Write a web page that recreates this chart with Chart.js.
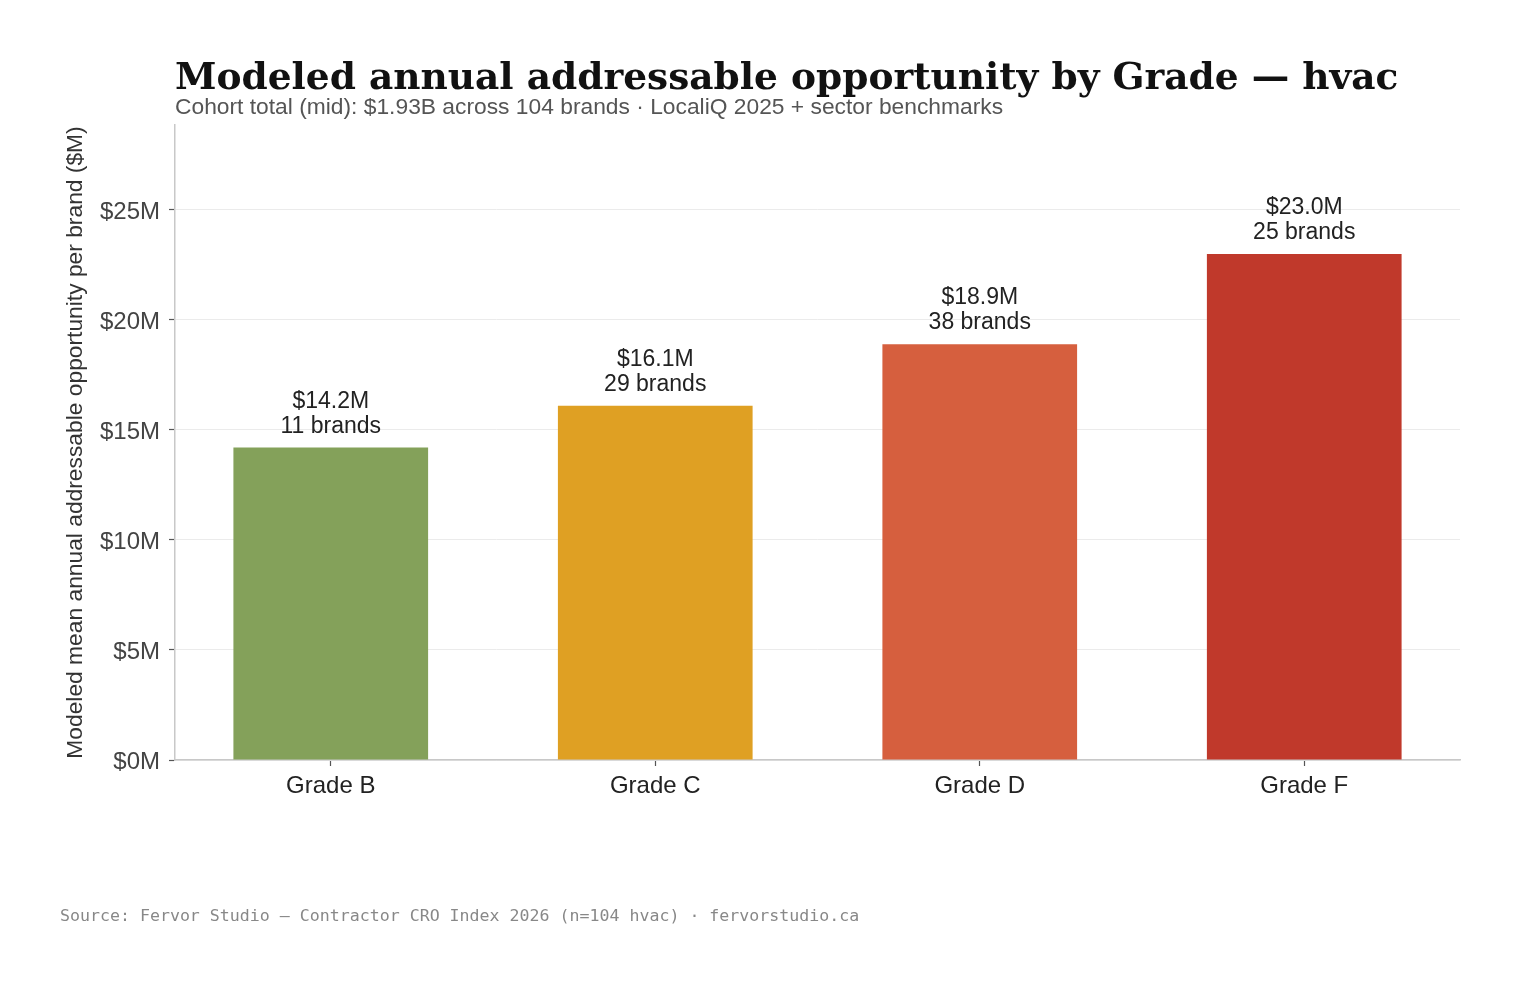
<!DOCTYPE html>
<html>
<head>
<meta charset="utf-8">
<title>Modeled annual addressable opportunity by Grade — hvac</title>
<script src="https://cdn.jsdelivr.net/npm/chart.js@4/dist/chart.umd.min.js"></script>
<style>
    html, body { margin: 0; padding: 0; background: #fff; }
    #wrap { position: relative; width: 1519px; height: 985px; }
</style>
</head>
<body>
<div id="wrap"><canvas id="gradeChart" width="1519" height="985"></canvas></div>
<script>
const grades = ['Grade B', 'Grade C', 'Grade D', 'Grade F'];
const meanOpportunity = [14.2, 16.1, 18.9, 23.0];   // $M per brand
const brandCounts = [11, 29, 38, 25];
const yTicks = [0, 5, 10, 15, 20, 25];
const gradeColors = ['#84a15a', '#dfa023', '#d65f3e', '#c0392b'];

const titleText = 'Modeled annual addressable opportunity by Grade — hvac';
const subtitleText = 'Cohort total (mid): $1.93B across 104 brands · LocaliQ 2025 + sector benchmarks';
const sourceText = 'Source: Fervor Studio — Contractor CRO Index 2026 (n=104 hvac) · fervorstudio.ca';

const SANS = '"Liberation Sans", Arial, sans-serif';

// headings + footer drawn straight on the canvas
const headingPlugin = {
    id: 'headings',
    afterDraw(chart) {
        const ctx = chart.ctx;
        ctx.save();
        ctx.textAlign = 'left';
        ctx.textBaseline = 'alphabetic';
        ctx.fillStyle = '#111';
        ctx.font = 'bold 37.5px "DejaVu Serif", serif';
        ctx.fillText(titleText, 175, 89);
        ctx.fillStyle = '#555';
        ctx.font = '22.8px ' + SANS;
        ctx.fillText(subtitleText, 175, 114);
        ctx.fillStyle = '#888';
        ctx.font = '16.6px "DejaVu Sans Mono", monospace';
        ctx.fillText(sourceText, 60, 921);
        ctx.restore();
    }
};

// value + brand count above every bar
const barLabelPlugin = {
    id: 'barLabels',
    afterDatasetsDraw(chart) {
        const ctx = chart.ctx;
        const meta = chart.getDatasetMeta(0);
        ctx.save();
        ctx.textAlign = 'center';
        ctx.textBaseline = 'middle';
        ctx.fillStyle = '#222';
        ctx.font = '23px ' + SANS;
        meta.data.forEach((bar, i) => {
            ctx.fillText('$' + meanOpportunity[i].toFixed(1) + 'M', bar.x, bar.y - 46);
            ctx.fillText(brandCounts[i] + ' brands', bar.x, bar.y - 21);
        });
        ctx.restore();
    }
};

new Chart(document.getElementById('gradeChart'), {
    type: 'bar',
    data: {
        datasets: [{
            data: meanOpportunity.map((v, i) => ({ x: i, y: v })),
            backgroundColor: gradeColors,
            borderWidth: 0,
            barPercentage: 0.6,
            categoryPercentage: 1
        }]
    },
    options: {
        responsive: false,
        animation: false,
        events: [],
        layout: { padding: { left: 0, right: 59, top: 125, bottom: 165 } },
        plugins: {
            legend: { display: false },
            tooltip: { enabled: false }
        },
        scales: {
            x: {
                type: 'linear',
                offset: false,
                min: -0.48,
                max: 3.48,
                afterBuildTicks: scale => {
                    scale.ticks = grades.map((g, i) => ({ value: i }));
                },
                afterFit: scale => { scale.height = 60; },
                border: { display: true, color: '#c8c8c8', width: 1.5 },
                grid: {
                    display: true,
                    offset: false,
                    drawOnChartArea: false,
                    drawTicks: true,
                    tickLength: 6,
                    tickColor: '#555',
                    tickWidth: 1.2
                },
                ticks: {
                    padding: 6,
                    color: '#222',
                    font: { family: SANS, size: 24 },
                    maxRotation: 0,
                    callback: v => grades[v]
                }
            },
            y: {
                min: 0,
                max: 28.86,
                afterBuildTicks: scale => {
                    scale.ticks = yTicks.map(v => ({ value: v }));
                },
                afterFit: scale => { scale.width = 175; },
                border: { display: true, color: '#c8c8c8', width: 1.5 },
                grid: {
                    color: '#ebebeb',
                    lineWidth: 1,
                    drawTicks: true,
                    tickLength: 6,
                    tickColor: '#555',
                    tickWidth: 1.2
                },
                ticks: {
                    padding: 9,
                    labelOffset: 2,
                    color: '#444',
                    font: { family: SANS, size: 24 },
                    callback: v => '$' + v + 'M'
                },
                title: {
                    display: true,
                    text: 'Modeled mean annual addressable opportunity per brand ($M)',
                    color: '#333',
                    font: { family: SANS, size: 22.8 },
                    padding: { top: 62, bottom: 0 }
                }
            }
        }
    },
    plugins: [barLabelPlugin, headingPlugin]
});
</script>
</body>
</html>
